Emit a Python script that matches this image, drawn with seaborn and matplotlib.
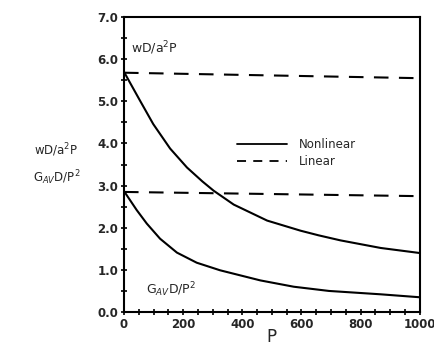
import matplotlib
matplotlib.use('Agg')
import matplotlib.pyplot as plt
from matplotlib.lines import Line2D
from matplotlib.ticker import MultipleLocator
import seaborn as sns
import pandas as pd

# values
p_upper = [0, 54, 99, 156, 213, 265, 303, 371, 484, 597, 658, 732, 868, 1000]
wd_nonlinear = [5.70, 5.02, 4.46, 3.88, 3.43, 3.10, 2.88, 2.55, 2.17, 1.93, 1.82, 1.70, 1.52, 1.40]

p_lower = [0, 43, 77, 122, 179, 246, 325, 461, 574, 693, 868, 1000]
gav_nonlinear = [2.87, 2.42, 2.10, 1.74, 1.41, 1.17, 0.99, 0.75, 0.60, 0.50, 0.42, 0.35]

p_linear = [0, 1000]
wd_linear = [5.68, 5.55]
gav_linear = [2.85, 2.75]

x_ticks = [0, 200, 400, 600, 800, 1000]
y_ticks = [0, 1, 2, 3, 4, 5, 6, 7]

rows = []
for p, v in zip(p_upper, wd_nonlinear):
    rows.append((p, v, 'wD', 'Nonlinear'))
for p, v in zip(p_lower, gav_nonlinear):
    rows.append((p, v, 'GAV', 'Nonlinear'))
for p, v in zip(p_linear, wd_linear):
    rows.append((p, v, 'wD', 'Linear'))
for p, v in zip(p_linear, gav_linear):
    rows.append((p, v, 'GAV', 'Linear'))
df = pd.DataFrame(rows, columns=['P', 'value', 'quantity', 'model'])
df['curve'] = df['quantity'] + '_' + df['model']

sns.set_style('ticks')
plt.rcParams['font.family'] = ['DejaVu Sans']

fig = plt.figure(figsize=(4.35, 3.49), dpi=100)
ax = fig.add_axes([0.285, 0.106, 0.68, 0.845])

sns.lineplot(data=df, x='P', y='value', style='model', units='curve',
             estimator=None, color='black', linewidth=1.5,
             dashes={'Nonlinear': '', 'Linear': (7, 5)}, legend=False, ax=ax)

ax.set_xlim(0, 1000)
ax.set_ylim(0, 7)
ax.set_xticks(x_ticks)
ax.set_xticklabels([str(t) for t in x_ticks], fontsize=8.5, fontweight='bold')
ax.set_yticks(y_ticks)
ax.set_yticklabels(['%.1f' % t for t in y_ticks], fontsize=8.5, fontweight='bold')
ax.xaxis.set_minor_locator(MultipleLocator(50))
ax.yaxis.set_minor_locator(MultipleLocator(0.5))
ax.tick_params(which='both', direction='inout', length=4, width=1.2, color='black', pad=2)
for s in ax.spines.values():
    s.set_linewidth(1.5)
    s.set_color('black')

ax.set_xlabel('P', fontsize=12, labelpad=-2)
ax.set_ylabel('')

ax.text(25, 6.15, 'wD/a$^2$P', fontsize=9)
ax.text(75, 0.42, 'G$_{AV}$D/P$^2$', fontsize=9)

fig.text(0.13, 0.57, 'wD/a$^2$P', fontsize=8.5, ha='center', va='center')
fig.text(0.13, 0.49, 'G$_{AV}$D/P$^2$', fontsize=8.5, ha='center', va='center')

handles = [Line2D([], [], color='black', lw=1.3),
           Line2D([], [], color='black', lw=1.3, dashes=(5, 4))]
ax.legend(handles, ['Nonlinear', 'Linear'], frameon=False, fontsize=8.5,
          loc='center left', bbox_to_anchor=(0.345, 0.54), handlelength=4.3,
          labelspacing=0.35, handletextpad=1.0)

fig.savefig('out.png', dpi=100)
